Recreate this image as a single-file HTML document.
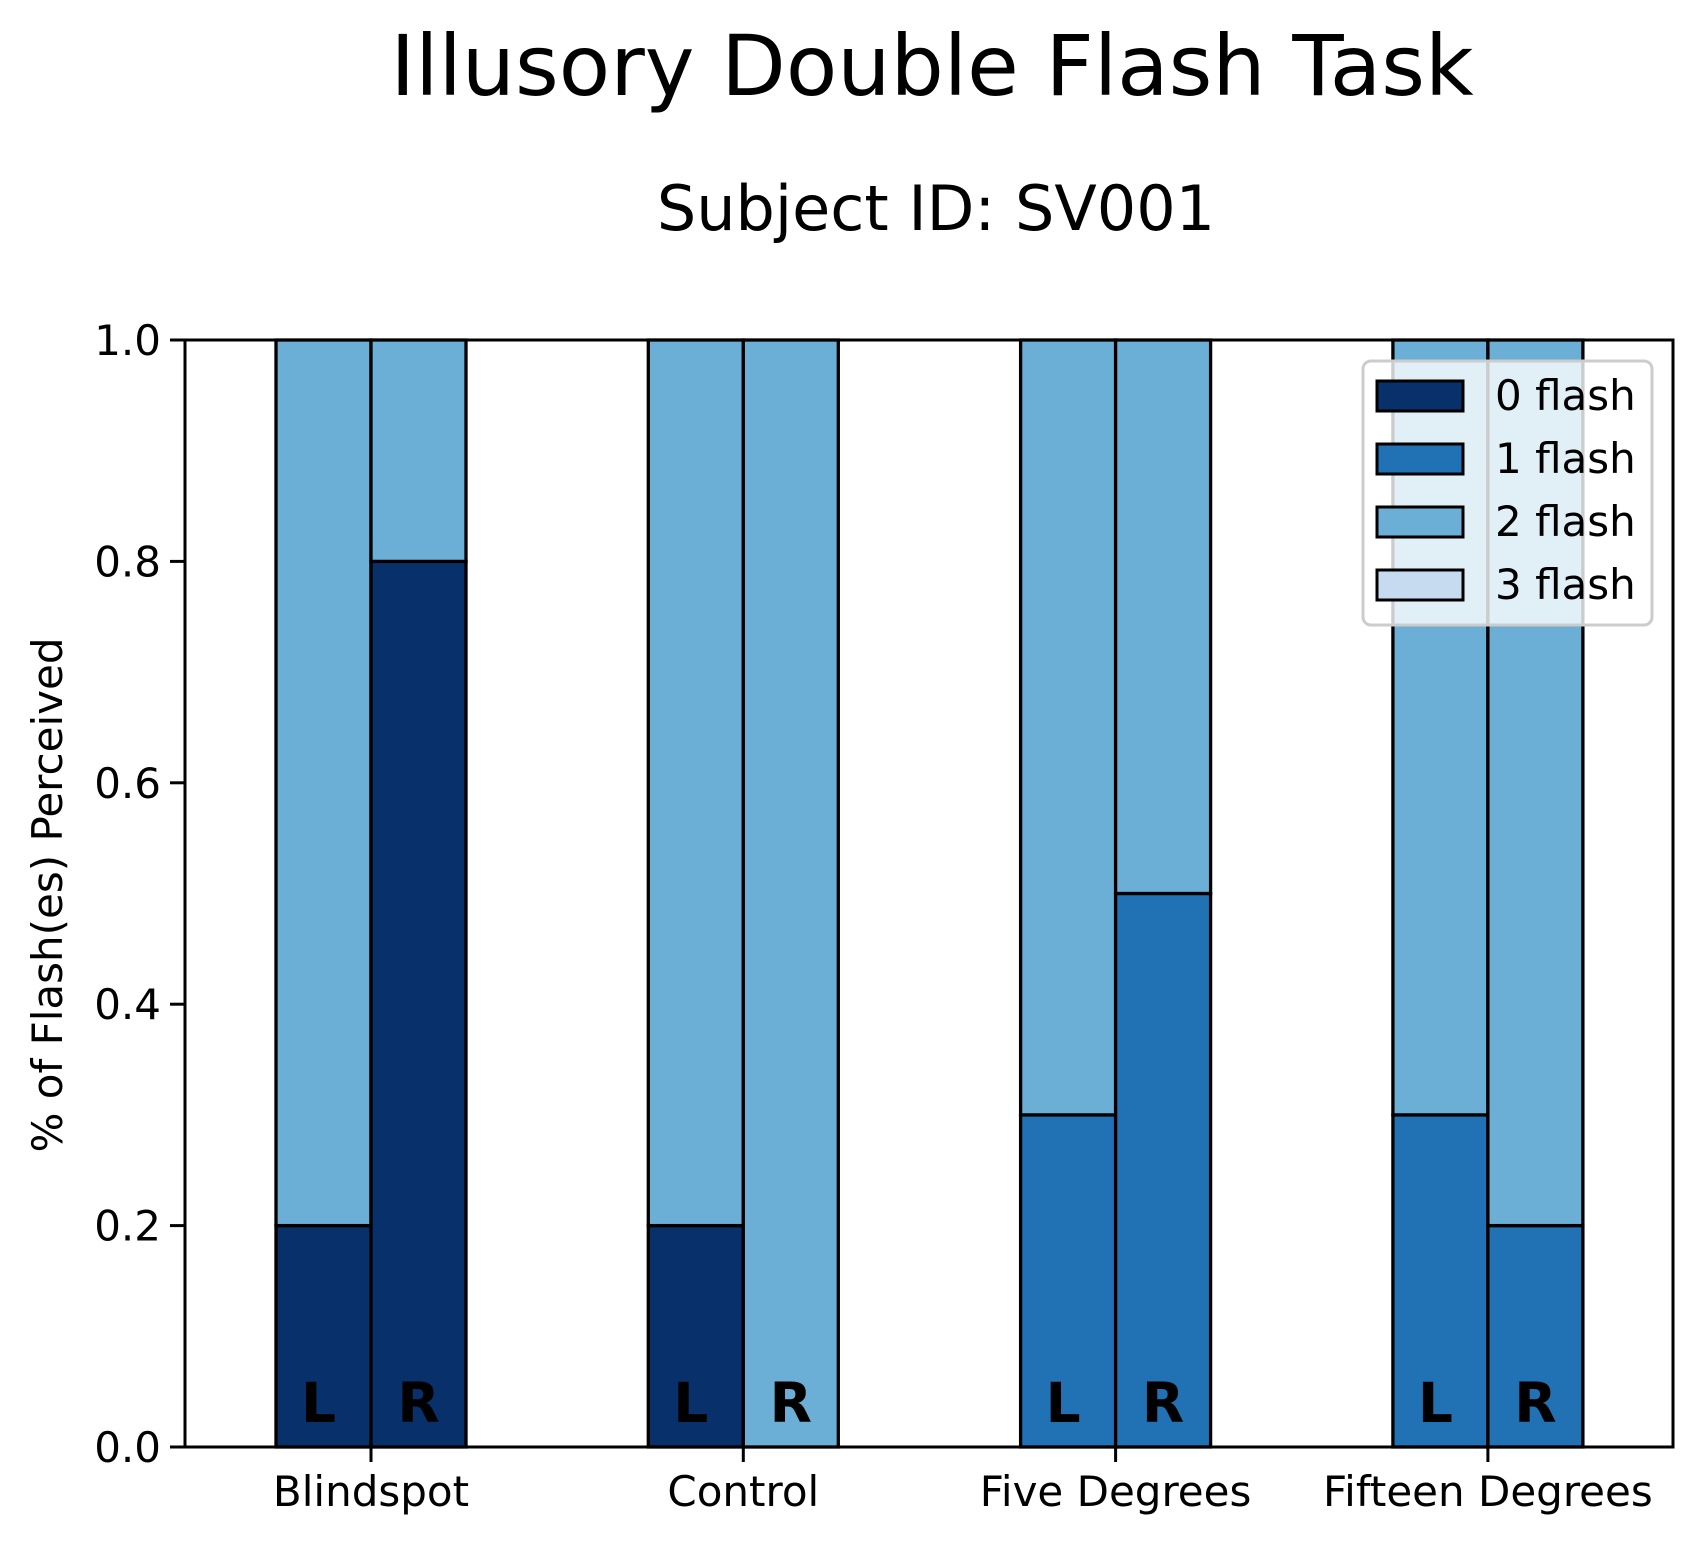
<!DOCTYPE html>
<html><head><meta charset="utf-8"><style>
html,body{margin:0;padding:0;background:#fff;}
svg{display:block;font-family:"DejaVu Sans","Liberation Sans",sans-serif;}
</style></head><body>
<svg id="chart" width="1702" height="1550" viewBox="0 0 1702 1550" xmlns="http://www.w3.org/2000/svg">
<text x="932" y="95" font-size="84" text-anchor="middle">Illusory Double Flash Task</text>
<text x="936" y="230" font-size="62" text-anchor="middle">Subject ID: SV001</text>
<text transform="translate(62,895) rotate(-90)" font-size="42" text-anchor="middle">% of Flash(es) Perceived</text>
<g id="bars"></g>
<g id="axes"></g>
<g id="legend"></g>
</svg>
<script>
const categories = ["Blindspot","Control","Five Degrees","Fifteen Degrees"];
const sides = ["L","R"];
const seriesNames = ["0 flash","1 flash","2 flash","3 flash"];
const colors = ["#08306b","#2171b5","#6baed6","#c6dbef"];
// values per series: [catL, catR] for each category in order
const flash0 = [0.2,0.8, 0.2,0.0, 0.0,0.0, 0.0,0.0];
const flash1 = [0.0,0.0, 0.0,0.0, 0.3,0.5, 0.3,0.2];
const flash2 = [0.8,0.2, 0.8,1.0, 0.7,0.5, 0.7,0.8];
const flash3 = [0.0,0.0, 0.0,0.0, 0.0,0.0, 0.0,0.0];
const yTicks = [0.0,0.2,0.4,0.6,0.8,1.0];

const NS="http://www.w3.org/2000/svg";
const L=185,R=1673,T=340,B=1447;
const catStep=372.3, cat0=371, barW=95;
const xCat=i=>cat0+i*catStep;
const y=v=>B-(B-T)*v;
function mk(tag,attrs,parent){const e=document.createElementNS(NS,tag);for(const k in attrs)e.setAttribute(k,attrs[k]);parent.appendChild(e);return e;}
const bars=document.getElementById('bars'),axes=document.getElementById('axes'),leg=document.getElementById('legend');
const series=[flash0,flash1,flash2,flash3];
categories.forEach((c,ci)=>{
  sides.forEach((s,si)=>{
    const idx=ci*2+si;
    const x0=si===0?xCat(ci)-barW:xCat(ci);
    let base=0;
    series.forEach((ser,k)=>{
      const v=ser[idx];
      if(v>0){
        const r=mk('rect',{x:x0,y:y(base+v),width:barW,height:y(base)-y(base+v),fill:colors[k],stroke:'#000','stroke-width':3.3},bars);
        
        
      }
      base+=v;
    });
    const t=mk('text',{x:x0+barW/2-(si===0?5:0),y:1422,'font-size':55,'font-weight':'bold','text-anchor':'middle'},bars);
    t.textContent=s;
    
    
  });
  const tk=mk('line',{x1:xCat(ci),x2:xCat(ci),y1:B,y2:B+15,stroke:'#000','stroke-width':3},axes);
  
  
  const lb=mk('text',{x:xCat(ci),y:B+59,'font-size':42,'text-anchor':'middle'},axes);
  lb.textContent=c;
  
  
});
yTicks.forEach(v=>{
  const tk=mk('line',{x1:L-15,x2:L,y1:y(v),y2:y(v),stroke:'#000','stroke-width':3},axes);
  
  
  const lb=mk('text',{x:L-24,y:y(v)+15,'font-size':42,'text-anchor':'end'},axes);
  lb.textContent=v.toFixed(1);
  
  
});
const frame=mk('rect',{x:L,y:T,width:R-L,height:B-T,fill:'none',stroke:'#000','stroke-width':3},axes);


const lb=mk('rect',{x:1363,y:361,width:289,height:264,rx:8,fill:'#fff','fill-opacity':0.8,stroke:'#ccc','stroke-width':3},leg);


seriesNames.forEach((n,k)=>{
  const yy=381+k*63;
  const p=mk('rect',{x:1377,y:yy,width:86,height:30,fill:colors[k],stroke:'#000','stroke-width':3},leg);
  
  
  const t=mk('text',{x:1495,y:yy+29,'font-size':42},leg);
  t.textContent=n;
  
  
});
</script>
</body></html>
